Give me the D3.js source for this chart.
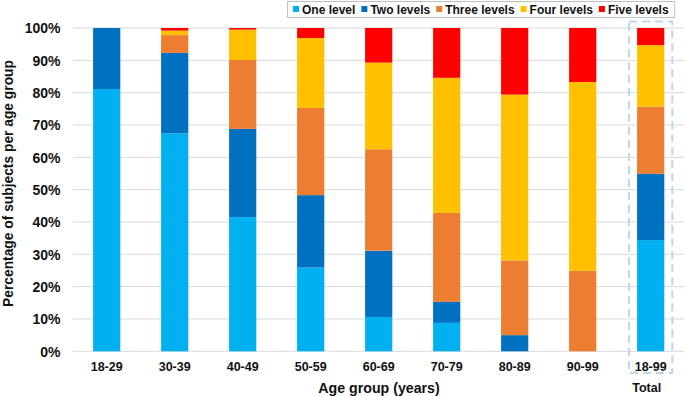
<!DOCTYPE html>
<html><head><meta charset="utf-8">
<script src="https://cdn.jsdelivr.net/npm/d3@7"></script>
<style>body{margin:0;background:#fff}svg{display:block;font-family:"Liberation Sans",Arial,sans-serif}</style>
</head><body><svg id="c" width="685" height="396"></svg>
<script>
const categories = ["18-29","30-39","40-49","50-59","60-69","70-79","80-89","90-99","18-99"];
const seriesNames = ["One level","Two levels","Three levels","Four levels","Five levels"];
const oneLevel    = [81.1, 67.4, 41.5, 25.9, 10.6,  8.8, 0,    0,    34.4];
const twoLevels   = [18.9, 24.9, 27.3, 22.4, 20.5,  6.5, 5.0,  0,    20.5];
const threeLevels = [0,     5.5, 21.3, 27.0, 31.4, 27.5, 23.1, 24.9, 20.8];
const fourLevels  = [0,     1.4,  9.4, 21.6, 26.8, 41.8, 51.3, 58.4, 19.0];
const fiveLevels  = [0,     0.8,  0.5,  3.1, 10.7, 15.4, 20.6, 16.7,  5.3];
const yTicks = [0,10,20,30,40,50,60,70,80,90,100];
const colors = ["#00b0f0","#0070c0","#ed7d31","#ffc000","#ff0000"];

const svg = d3.select("#c");
const x = d3.scaleBand().domain(categories).range([72.7, 684.7]).paddingInner(0.6).paddingOuter(0.3);
const y = d3.scaleLinear().domain([0,100]).range([351.3, 28]);
const ink = "#111";

// gridlines
svg.append("g").selectAll("line").data(yTicks).join("line")
  .attr("x1", 72.7).attr("x2", 684).attr("y1", d=>y(d)).attr("y2", d=>y(d))
  .attr("stroke", "#d9d9d9").attr("stroke-width", 1);

// y tick labels
const yAxis = d3.axisLeft(y).tickValues(yTicks).tickFormat(d=>d+"%").tickSize(0).tickPadding(0);
const yg = svg.append("g").attr("transform","translate(60.5,0)").call(yAxis);
yg.select(".domain").remove();
yg.selectAll("text").attr("font-size","14px").attr("font-weight","bold").attr("fill",ink).attr("font-family","Liberation Sans, Arial, sans-serif").attr("dy","0.35em");

// x tick labels
const xAxis = d3.axisBottom(x).tickSize(0).tickPadding(0);
const xg = svg.append("g").attr("transform","translate(0,366.7)").call(xAxis);
xg.select(".domain").remove();
xg.selectAll("text").attr("font-size","12.5px").attr("font-weight","bold").attr("fill",ink).attr("font-family","Liberation Sans, Arial, sans-serif").attr("dy","0.35em");

// stacked bars
const data = categories.map((c,i)=>({cat:c, s0:oneLevel[i], s1:twoLevels[i], s2:threeLevels[i], s3:fourLevels[i], s4:fiveLevels[i]}));
const stack = d3.stack().keys(["s0","s1","s2","s3","s4"])(data);
svg.append("g").selectAll("g").data(stack).join("g").attr("fill",(d,i)=>colors[i])
  .selectAll("rect").data(d=>d).join("rect")
  .attr("x", d=>x(d.data.cat)).attr("width", x.bandwidth())
  .attr("y", d=>y(d[1])).attr("height", d=>Math.max(0, y(d[0])-y(d[1])));

// dashed box around Total
const tx = x("18-99");
svg.append("rect").attr("x", tx-8).attr("y", 21.5).attr("width", x.bandwidth()+16).attr("height", 351.5)
  .attr("fill","none").attr("stroke","#bdd7ee").attr("stroke-width",2).attr("stroke-dasharray","8,5");

// axis titles
svg.append("text").attr("transform","translate(12.5,183.5) rotate(-90)").attr("text-anchor","middle")
  .attr("font-size","13.8px").attr("font-weight","bold").attr("fill",ink).text("Percentage of subjects per age group");
svg.append("text").attr("x", 379).attr("y", 393).attr("text-anchor","middle")
  .attr("font-size","14.2px").attr("font-weight","bold").attr("fill",ink).text("Age group (years)");
svg.append("text").attr("x", 646.7).attr("y", 391.5).attr("text-anchor","middle")
  .attr("font-size","12.5px").attr("font-weight","bold").attr("fill",ink).text("Total");

// legend
const lg = svg.append("g");
const box = lg.append("rect").attr("fill","#fff").attr("stroke","#bfbfbf").attr("stroke-width",1);
let cx = 293;
seriesNames.forEach((n,i)=>{
  lg.append("rect").attr("x",cx).attr("y",6).attr("width",6).attr("height",6).attr("fill",colors[i]);
  const t = lg.append("text").attr("x",cx+9).attr("y",13.5).attr("font-size","12px").attr("font-weight","bold").attr("fill",ink).text(n);
  cx += 9 + t.node().getComputedTextLength() + 6;
});
box.attr("x",287.5).attr("y",1.5).attr("width",cx-287.5).attr("height",16);
</script></body></html>
